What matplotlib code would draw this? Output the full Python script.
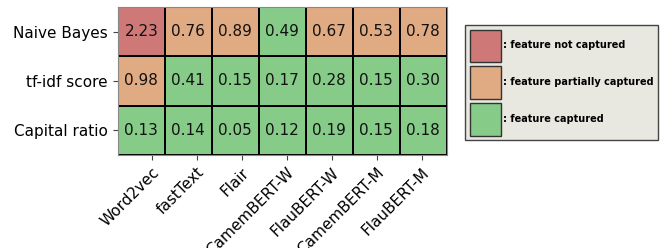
import matplotlib
matplotlib.use("Agg")
import matplotlib.pyplot as plt
import numpy as np
from matplotlib.colors import ListedColormap
from matplotlib.patches import Patch

models = ["Word2vec", "fastText", "Flair", "CamemBERT-W", "FlauBERT-W", "CamemBERT-M", "FlauBERT-M"]
features = ["Naive Bayes", "tf-idf score", "Capital ratio"]
values = [
    [2.23, 0.76, 0.89, 0.49, 0.67, 0.53, 0.78],
    [0.98, 0.41, 0.15, 0.17, 0.28, 0.15, 0.30],
    [0.13, 0.14, 0.05, 0.12, 0.19, 0.15, 0.18],
]
# 0: captured, 1: partially captured, 2: not captured
categories = [
    [2, 1, 1, 0, 1, 1, 1],
    [1, 0, 0, 0, 0, 0, 0],
    [0, 0, 0, 0, 0, 0, 0],
]
legend_labels = [": feature not captured", ": feature partially captured", ": feature captured"]

c_green = "#86cc88"
c_orange = "#e0aa82"
c_red = "#cf7878"
cmap = ListedColormap([c_green, c_orange, c_red])

fig = plt.figure(figsize=(6.62, 2.48), dpi=100)
ax = fig.add_axes([0.178, 0.375, 0.497, 0.597])
cat = np.array(categories)
ax.pcolormesh(cat, cmap=cmap, vmin=-0.5, vmax=2.5, edgecolors="black", linewidth=1.2)
ax.set_xlim(0, len(models))
ax.set_ylim(len(features), 0)
for i in range(len(features)):
    for j in range(len(models)):
        ax.text(j + 0.5, i + 0.5, f"{values[i][j]:.2f}", ha="center", va="center", fontsize=11, color="#111111")

# x tick marks in the reference are spread slightly narrower than the cells
xtick_pos = 0.723 + 0.957 * np.arange(len(models))
ax.set_xticks(xtick_pos)
ax.set_xticklabels(models, rotation=45, ha="right", rotation_mode="anchor", fontsize=11)
ax.set_yticks(np.arange(len(features)) + 0.5)
ax.set_yticklabels(features, fontsize=11)
for s in ax.spines.values():
    s.set_color("#888888")
ax.tick_params(colors="#444444", labelcolor="black")

handles = [Patch(facecolor=c, edgecolor="#333333", linewidth=1) for c in [c_red, c_orange, c_green]]
leg = fig.legend(handles, legend_labels, loc="upper left", bbox_to_anchor=(0.702, 0.9),
                 prop={"size": 7, "weight": "bold"}, handlelength=3.2, handleheight=4.75,
                 handletextpad=0.2, labelspacing=0.45, borderpad=0.5, borderaxespad=0,
                 fancybox=False, frameon=True)
leg.get_frame().set_facecolor("#e8e8e0")
leg.get_frame().set_edgecolor("#444444")
leg.get_frame().set_alpha(1)

fig.savefig("out.png", dpi=100)
